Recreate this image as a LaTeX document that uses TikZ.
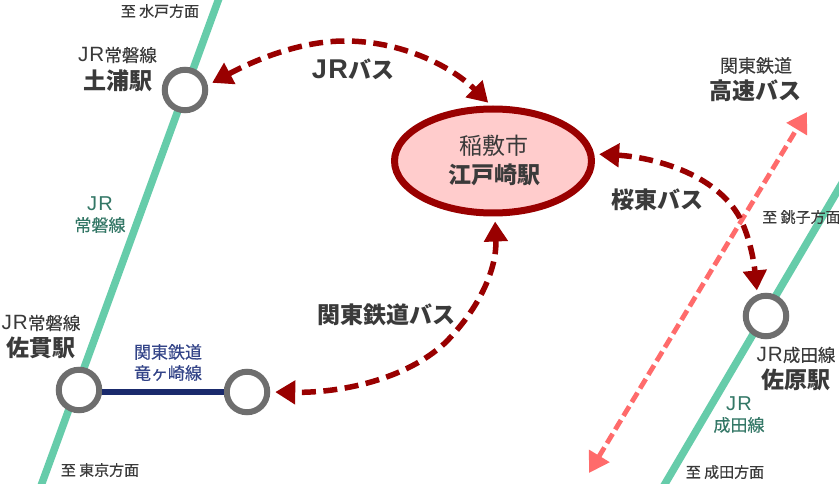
\documentclass[tikz,border=0pt]{standalone}
\usepackage{fontspec}
\usetikzlibrary{arrows.meta,shapes.geometric}
\setmainfont{Noto Sans CJK JP}
\newfontfamily\latf[LetterSpace=5,Scale=1.18]{Liberation Sans}
\newfontfamily\heavyf[FakeBold=0.2]{Noto Sans CJK JP}
\newcommand{\fsz}[1]{\fontsize{#1}{#1}\selectfont}
\definecolor{railgreen}{HTML}{66CCAA}
\definecolor{greentext}{HTML}{337766}
\definecolor{navyline}{HTML}{1A2A6C}
\definecolor{navytext}{HTML}{334488}
\definecolor{busred}{HTML}{990000}
\definecolor{paleRed}{HTML}{FFCCCC}
\definecolor{pinkbus}{HTML}{FF6B6B}
\definecolor{ringgray}{HTML}{6E6E6E}
\definecolor{ink}{HTML}{3A3A3A}
\tikzset{
  x=1pt,y=-1pt,
  station/.style={circle,draw=ringgray,fill=white,line width=6pt,minimum size=40.5pt,inner sep=0pt},
  hub/.style={ellipse,draw=busred,fill=paleRed,line width=7pt,minimum width=197pt,minimum height=104pt,inner sep=0pt},
  railline/.style={railgreen,line width=7.5pt},
  busroute/.style={busred,line width=5.5pt,dash pattern=on 14pt off 7.5pt,{Triangle[width=23pt,length=20pt]}-{Triangle[width=23pt,length=20pt]}},
  highway/.style={pinkbus,line width=4.8pt,dash pattern=on 11pt off 5pt,{Triangle[width=23pt,length=20pt]}-{Triangle[width=23pt,length=20pt]}},
  sname/.style={text=ink,inner sep=0pt,font=\fsz{17.5}\heavyf},
  sbig/.style={text=ink,inner sep=0pt,font=\fsz{23}\bfseries},
  dest/.style={text=ink,inner sep=0pt,font=\fsz{15}\heavyf},
  glabel/.style={text=greentext,inner sep=0pt,font=\fsz{17}\heavyf},
  nlabel/.style={text=navytext,inner sep=0pt,font=\fsz{17}\heavyf},
}
\begin{document}
\begin{tikzpicture}
\clip (0,0) rectangle (839,484);
\fill[white] (0,0) rectangle (839,484);
% rail line ends
\coordinate (jobanN) at (222,-10);
\coordinate (jobanS) at (38,494);
\coordinate (naritaN) at (851,168);
\coordinate (naritaS) at (659,494);
\coordinate (hwN) at (807,112);
\coordinate (hwS) at (589,473);
\draw[railline] (jobanN) -- (jobanS);
\draw[railline] (naritaN) -- (naritaS);
% stations
\node[station] (tsuchiura) at (185,90) {};
\node[station] (sanuki) at (79,390) {};
\node[station] (ryugasaki) at (247,392) {};
\node[station] (sawara) at (766,316) {};
\node[hub] (edosaki) at (493,161) {};
\draw[navyline,line width=6pt] (ryugasaki.west -| sanuki.east) -- (ryugasaki.west);
% routes
\draw[highway] (hwS) -- (hwN);
\draw[busroute,shorten <=5pt,shorten >=4pt] (tsuchiura.12) .. controls (255,60) and (300,41) .. (345,41) .. controls (400,41) and (450,65) .. (edosaki.92);
\draw[busroute,shorten <=5pt,shorten >=4pt] (edosaki.4) .. controls (650,157) and (715,172) .. (740,218) .. controls (750,238) and (754,262) .. (sawara.112);
\draw[busroute,shorten <=5pt,shorten >=5pt] (edosaki.-88) .. controls (497,270) and (478,310) .. (445,343) .. controls (405,380) and (340,393) .. (ryugasaki.east);
% labels
\node[dest] (tMito) at (160,11) {至 水戸方面};
\node[sname] (lJoban1) at (117.5,55) {{\latf JR}常磐線};
\node[sbig] (lTsuchiura) at (118,81) {土浦駅};
\node[sbig] (lJRbus) at (353,69) {{\latf JR}バス};
\node[glabel] (gJR1) at (100,204) {{\latf JR}};
\node[glabel] (gJoban) at (100,225) {常磐線};
\node[text=ink,inner sep=0pt,font=\fsz{23}] (lInashiki) at (494,146) {稲敷市};
\node[sbig] (lEdosaki) at (494,175) {江戸崎駅};
\node[text=ink,inner sep=0pt,font=\fsz{18}\heavyf] (lKanto) at (756,65.5) {関東鉄道};
\node[sbig] (lKosoku) at (755,91) {高速バス};
\node[sbig] (lOto) at (657,200) {桜東バス};
\node[dest,anchor=west] (tChoshi) at (762,217) {至 銚子方面};
\node[sname] (lJoban2) at (41,323) {{\latf JR}常磐線};
\node[sbig] (lSanuki) at (41,348) {佐貫駅};
\node[nlabel] (nKanto) at (168,352) {関東鉄道};
\node[nlabel] (nRyu) at (168,373) {竜ヶ崎線};
\node[dest] (tTokyo) at (100,470) {至 東京方面};
\node[sbig] (lKantoBus) at (386,315) {関東鉄道バス};
\node[sname] (lNarita) at (796,355) {{\latf JR}成田線};
\node[sbig] (lSawara) at (796,380) {佐原駅};
\node[glabel] (gJR2) at (739,404) {{\latf JR}};
\node[glabel] (gNarita) at (739,425) {成田線};
\node[dest] (tNarita) at (725,472) {至 成田方面};
\end{tikzpicture}
\end{document}
